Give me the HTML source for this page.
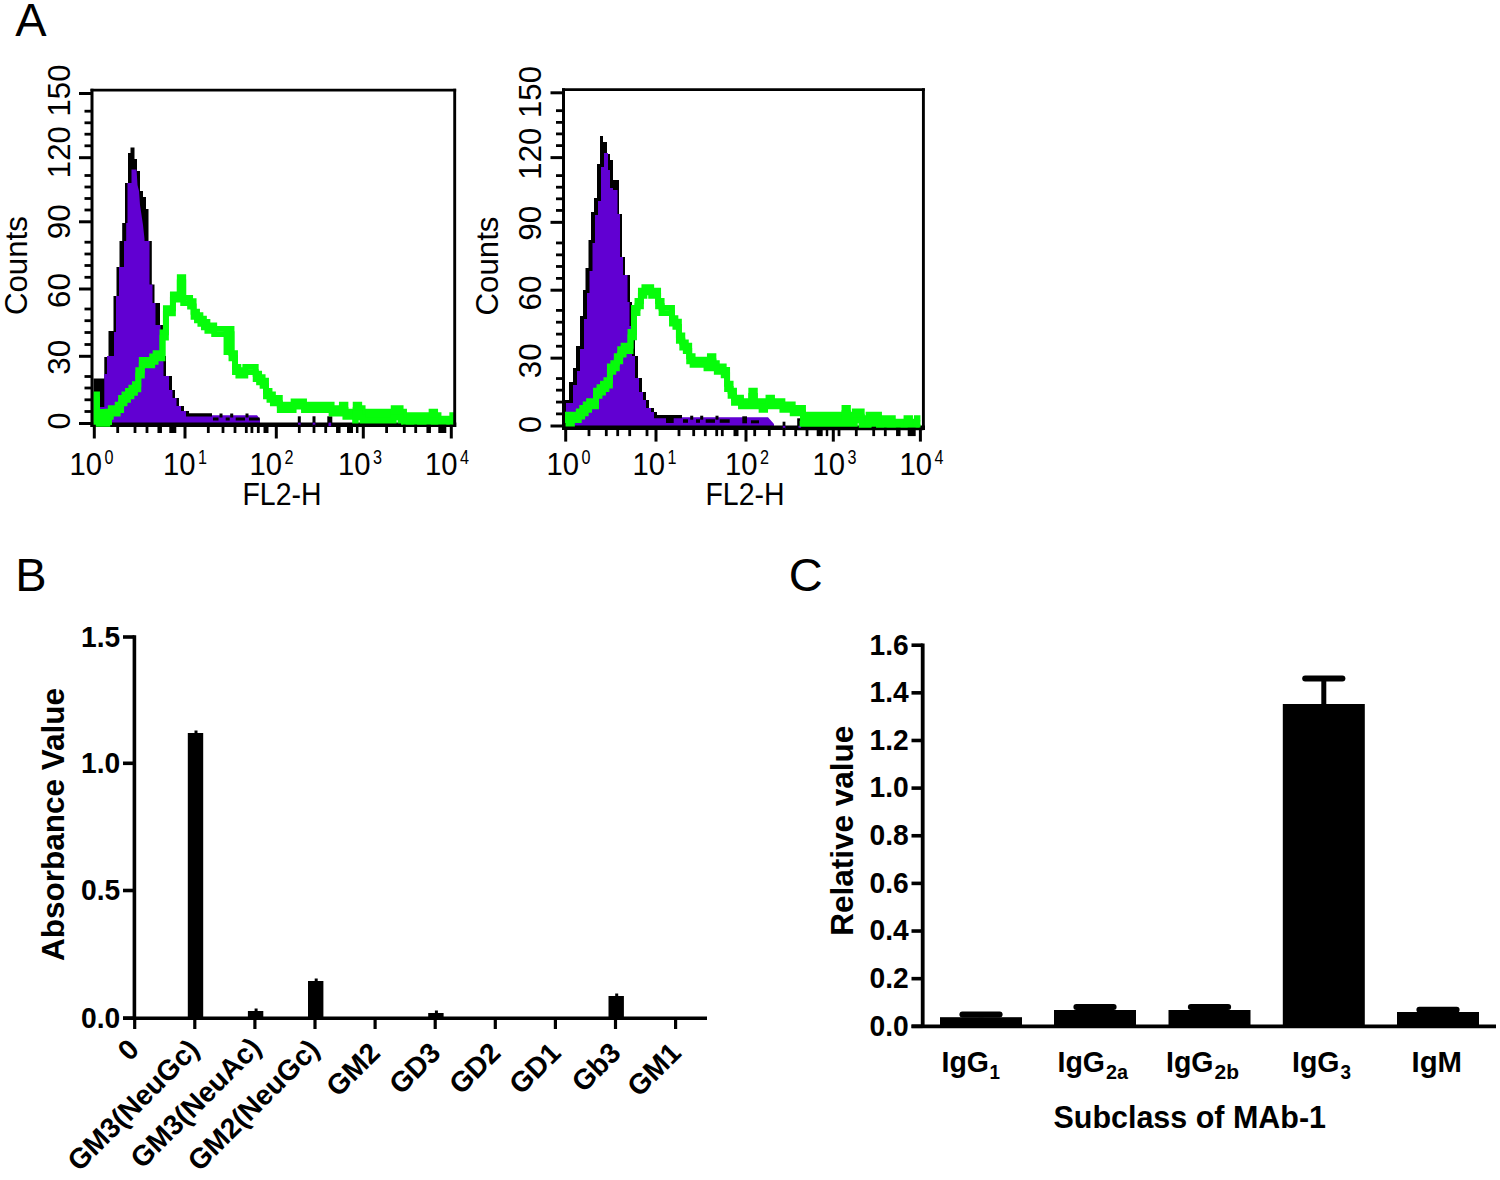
<!DOCTYPE html>
<html lang="en"><head><meta charset="utf-8"><title>Figure</title>
<style>html,body{margin:0;padding:0;background:#fff;}svg{display:block;}text{font-family:"Liberation Sans", sans-serif;fill:#000;}</style></head><body>
<svg width="1500" height="1180" viewBox="0 0 1500 1180">
<rect width="1500" height="1180" fill="#fff"/>
<text x="15.3" y="36.3" font-size="47" text-anchor="start" >A</text>
<text x="15.3" y="591.3" font-size="47" text-anchor="start" >B</text>
<text x="788.8" y="591.3" font-size="47" text-anchor="start" >C</text>
<g>
<polygon points="93.5,424 93.5,378.5 104.3,378.5 104.3,357 108.5,357 108.5,331 113.5,331 113.5,296 116.5,296 116.5,267 119.5,267 119.5,241 122.2,241 122.2,223 125,223 125,183 128,183 128,153 130.5,153 130.5,147.5 134.5,147.5 134.5,159 137,159 137,171 140,171 140,191 143,191 143,197 146,197 146,209 148.5,209 148.5,241 151.8,241 151.8,284.5 154.5,284.5 154.5,303 160,303 160,325 163,325 163,338 164.5,338 164.5,356 166,356 166,376 172,376 172,390 175,390 175,398 179,398 179,406 184,406 184,411 189,411 189,413.3 212,413.3 212,424" fill="#000"/>
<polygon points="98,424 98,407 104.3,407 104.3,374 107,374 107,356 114,356 114,332 116,332 116,296 119,296 119,267 124,267 124,241 126.2,241 126.2,223 127.5,223 127.5,183 131.5,183 131.5,169.5 136.5,169.5 137.5,185 139,191 140,205 141.5,215 143,225 144.5,239 144.5,241 149.5,241 149.5,284.5 152.5,284.5 152.5,303 155.5,303 155.5,325 160.5,325 160.5,338 162,338 162,356 163.5,356 163.5,376 169,376 169,390 172.5,390 172.5,398 176.5,398 176.5,406 181,406 181,411 186,411 186,416.5 212,416.5 212,415.3 257,415.3 260,419 260,424" fill="#6100d2"/>
<rect x="213" y="417.5" width="5.5" height="3" fill="#000"/>
<rect x="225.7" y="417.5" width="4" height="3" fill="#000"/>
<rect x="235.7" y="417.5" width="9.3" height="3" fill="#000"/>
<rect x="249" y="417.5" width="10.7" height="3" fill="#000"/>
<rect x="219.5" y="413.5" width="3" height="4" fill="#000"/>
<rect x="230.2" y="413.5" width="3" height="4" fill="#000"/>
<rect x="245.5" y="413.5" width="3" height="4" fill="#000"/>
<rect x="297.8" y="416.3" width="3" height="8" fill="#000"/>
<rect x="312.5" y="416.3" width="3" height="8" fill="#000"/>
<rect x="327.3" y="416.3" width="5" height="8" fill="#000"/>
<line x1="90.5" y1="424.7" x2="456.3" y2="424.7" stroke="#000" stroke-width="4.6" stroke-linecap="butt"/>
<rect x="298" y="422.6" width="2.6" height="3.6" fill="#6100d2"/>
<rect x="312.7" y="422.6" width="2.6" height="3.6" fill="#6100d2"/>
<rect x="328.5" y="422.6" width="2.6" height="3.6" fill="#6100d2"/>
<path d="M93.5,397.1H97.0V421.2H100.4V421.2H103.8V421.2H107.3V414.3H110.8V410.9H114.2V410.9H117.7V407.4H121.1V400.6H124.5V397.1H128.0V393.6H131.4V390.2H134.9V386.8H138.3V372.9H141.8V362.6H145.2V362.6H148.7V362.6H152.2V359.1H155.6V355.7H159.1V355.7H162.5V335.0H165.9V310.8H169.4V310.8H172.9V297.0H176.3V297.0H179.8V279.8H183.2V300.5H186.7V300.5H190.1V303.9H193.6V314.3H197.0V317.8H200.4V321.2H203.9V324.6H207.4V328.1H210.8V328.1H214.2V331.5H217.7V331.5H221.2V331.5H224.6V331.5H228.1V331.5H231.5V355.7H235.0V369.5H238.4V372.9H241.8V372.9H245.3V369.5H248.8V369.5H252.2V369.5H255.7V376.4H259.1V379.8H262.6V383.3H266.0V393.6H269.5V397.1H272.9V400.6H276.4V400.6H279.8V407.4H283.2V407.4H286.7V407.4H290.1V407.4H293.6V404.0H297.1V404.0H300.5V404.0H304.0V407.4H307.4V407.4H310.9V407.4H314.3V407.4H317.8V407.4H321.2V407.4H324.6V407.4H328.1V407.4H331.6V410.9H335.0V410.9H338.5V410.9H341.9V407.4H345.4V414.3H348.8V414.3H352.2V414.3H355.7V407.4H359.2V410.9H362.6V414.3H366.1V414.3H369.5V414.3H372.9V414.3H376.4V414.3H379.9V414.3H383.3V414.3H386.8V414.3H390.2V414.3H393.7V410.9H397.1V410.9H400.6V414.3H404.0V417.8H407.4V417.8H410.9V417.8H414.4V417.8H417.8V417.8H421.2V417.8H424.7V417.8H428.2V417.8H431.6V414.3H435.1V417.8H438.5V421.2H442.0V421.2H445.4V421.2H448.9V421.2H452.3V417.8H455.8" transform="translate(0 -2.6)" fill="none" stroke="#06fc0a" stroke-width="5.9" stroke-linejoin="miter" stroke-linecap="butt"/>
<path d="M93.5,397.1H97.0V421.2H100.4V421.2H103.8V421.2H107.3V414.3H110.8V410.9H114.2V410.9H117.7V407.4H121.1V400.6H124.5V397.1H128.0V393.6H131.4V390.2H134.9V386.8H138.3V372.9H141.8V362.6H145.2V362.6H148.7V362.6H152.2V359.1H155.6V355.7H159.1V355.7H162.5V335.0H165.9V310.8H169.4V310.8H172.9V297.0H176.3V297.0H179.8V279.8H183.2V300.5H186.7V300.5H190.1V303.9H193.6V314.3H197.0V317.8H200.4V321.2H203.9V324.6H207.4V328.1H210.8V328.1H214.2V331.5H217.7V331.5H221.2V331.5H224.6V331.5H228.1V331.5H231.5V355.7H235.0V369.5H238.4V372.9H241.8V372.9H245.3V369.5H248.8V369.5H252.2V369.5H255.7V376.4H259.1V379.8H262.6V383.3H266.0V393.6H269.5V397.1H272.9V400.6H276.4V400.6H279.8V407.4H283.2V407.4H286.7V407.4H290.1V407.4H293.6V404.0H297.1V404.0H300.5V404.0H304.0V407.4H307.4V407.4H310.9V407.4H314.3V407.4H317.8V407.4H321.2V407.4H324.6V407.4H328.1V407.4H331.6V410.9H335.0V410.9H338.5V410.9H341.9V407.4H345.4V414.3H348.8V414.3H352.2V414.3H355.7V407.4H359.2V410.9H362.6V414.3H366.1V414.3H369.5V414.3H372.9V414.3H376.4V414.3H379.9V414.3H383.3V414.3H386.8V414.3H390.2V414.3H393.7V410.9H397.1V410.9H400.6V414.3H404.0V417.8H407.4V417.8H410.9V417.8H414.4V417.8H417.8V417.8H421.2V417.8H424.7V417.8H428.2V417.8H431.6V414.3H435.1V417.8H438.5V421.2H442.0V421.2H445.4V421.2H448.9V421.2H452.3V417.8H455.8" transform="translate(0 2.6)" fill="none" stroke="#06fc0a" stroke-width="5.9" stroke-linejoin="miter" stroke-linecap="butt"/>
<clipPath id="clip92"><rect x="92" y="90.2" width="361.2" height="334.7"/></clipPath>
<g clip-path="url(#clip92)"><path d="M352.2,414.3H355.7V407.4H359.2V410.9H362.6V414.3H366.1V414.3H369.5V414.3H372.9V414.3H376.4V414.3H379.9V414.3H383.3V414.3H386.8V414.3H390.2V414.3H393.7V410.9H397.1V410.9H400.6V414.3H404.0V417.8H407.4V417.8H410.9V417.8H414.4V417.8H417.8V417.8H421.2V417.8H424.7V417.8H428.2V417.8H431.6V414.3H435.1V417.8H438.5V421.2H442.0V421.2H445.4V421.2H448.9V421.2H452.3V417.8H455.8" transform="translate(0 6.3)" fill="none" stroke="#06fc0a" stroke-width="5.9" stroke-linejoin="miter"/></g>
<line x1="346" y1="425.9" x2="454.7" y2="425.9" stroke="#000" stroke-width="2.3" stroke-linecap="butt"/>
<rect x="93.5" y="392" width="5.5" height="33" fill="#06fc0a"/>
<rect x="93.5" y="409" width="18.5" height="16" fill="#06fc0a"/>
<polyline points="226.5,331 226.5,355" fill="none" stroke="#06fc0a" stroke-width="5.9"/>
<line x1="92" y1="88.7" x2="92" y2="427.0" stroke="#000" stroke-width="3" stroke-linecap="butt"/>
<line x1="454.7" y1="88.7" x2="454.7" y2="427.0" stroke="#000" stroke-width="2.9" stroke-linecap="butt"/>
<line x1="90.5" y1="90.2" x2="456.15" y2="90.2" stroke="#000" stroke-width="2.8" stroke-linecap="butt"/>
<line x1="79" y1="93.5" x2="92" y2="93.5" stroke="#000" stroke-width="3" stroke-linecap="butt"/>
<line x1="79" y1="157.7" x2="92" y2="157.7" stroke="#000" stroke-width="3" stroke-linecap="butt"/>
<line x1="79" y1="221.8" x2="92" y2="221.8" stroke="#000" stroke-width="3" stroke-linecap="butt"/>
<line x1="79" y1="289" x2="92" y2="289" stroke="#000" stroke-width="3" stroke-linecap="butt"/>
<line x1="79" y1="356.3" x2="92" y2="356.3" stroke="#000" stroke-width="3" stroke-linecap="butt"/>
<line x1="79" y1="423.5" x2="92" y2="423.5" stroke="#000" stroke-width="3" stroke-linecap="butt"/>
<line x1="84.5" y1="111.2" x2="92" y2="111.2" stroke="#000" stroke-width="2.8" stroke-linecap="butt"/>
<line x1="84.5" y1="122.8" x2="92" y2="122.8" stroke="#000" stroke-width="2.8" stroke-linecap="butt"/>
<line x1="84.5" y1="134.2" x2="92" y2="134.2" stroke="#000" stroke-width="2.8" stroke-linecap="butt"/>
<line x1="84.5" y1="145.8" x2="92" y2="145.8" stroke="#000" stroke-width="2.8" stroke-linecap="butt"/>
<line x1="84.5" y1="175.5" x2="92" y2="175.5" stroke="#000" stroke-width="2.8" stroke-linecap="butt"/>
<line x1="84.5" y1="187" x2="92" y2="187" stroke="#000" stroke-width="2.8" stroke-linecap="butt"/>
<line x1="84.5" y1="198.5" x2="92" y2="198.5" stroke="#000" stroke-width="2.8" stroke-linecap="butt"/>
<line x1="84.5" y1="210" x2="92" y2="210" stroke="#000" stroke-width="2.8" stroke-linecap="butt"/>
<line x1="84.5" y1="242.2" x2="92" y2="242.2" stroke="#000" stroke-width="2.8" stroke-linecap="butt"/>
<line x1="84.5" y1="254" x2="92" y2="254" stroke="#000" stroke-width="2.8" stroke-linecap="butt"/>
<line x1="84.5" y1="265.5" x2="92" y2="265.5" stroke="#000" stroke-width="2.8" stroke-linecap="butt"/>
<line x1="84.5" y1="277.3" x2="92" y2="277.3" stroke="#000" stroke-width="2.8" stroke-linecap="butt"/>
<line x1="84.5" y1="309" x2="92" y2="309" stroke="#000" stroke-width="2.8" stroke-linecap="butt"/>
<line x1="84.5" y1="320.7" x2="92" y2="320.7" stroke="#000" stroke-width="2.8" stroke-linecap="butt"/>
<line x1="84.5" y1="332.5" x2="92" y2="332.5" stroke="#000" stroke-width="2.8" stroke-linecap="butt"/>
<line x1="84.5" y1="344.5" x2="92" y2="344.5" stroke="#000" stroke-width="2.8" stroke-linecap="butt"/>
<line x1="84.5" y1="376.5" x2="92" y2="376.5" stroke="#000" stroke-width="2.8" stroke-linecap="butt"/>
<line x1="84.5" y1="388" x2="92" y2="388" stroke="#000" stroke-width="2.8" stroke-linecap="butt"/>
<line x1="84.5" y1="399.8" x2="92" y2="399.8" stroke="#000" stroke-width="2.8" stroke-linecap="butt"/>
<line x1="84.5" y1="411.5" x2="92" y2="411.5" stroke="#000" stroke-width="2.8" stroke-linecap="butt"/>
<line x1="117.7" y1="424.7" x2="117.7" y2="433.0" stroke="#000" stroke-width="2.8" stroke-linecap="butt"/>
<line x1="135" y1="424.7" x2="135" y2="433.0" stroke="#000" stroke-width="2.8" stroke-linecap="butt"/>
<line x1="147" y1="424.7" x2="147" y2="433.0" stroke="#000" stroke-width="2.8" stroke-linecap="butt"/>
<line x1="159.7" y1="424.7" x2="159.7" y2="433.0" stroke="#000" stroke-width="4.5" stroke-linecap="butt"/>
<line x1="172.8" y1="424.7" x2="172.8" y2="433.0" stroke="#000" stroke-width="7" stroke-linecap="butt"/>
<line x1="208.3" y1="424.7" x2="208.3" y2="433.0" stroke="#000" stroke-width="2.8" stroke-linecap="butt"/>
<line x1="223" y1="424.7" x2="223" y2="433.0" stroke="#000" stroke-width="2.8" stroke-linecap="butt"/>
<line x1="235" y1="424.7" x2="235" y2="433.0" stroke="#000" stroke-width="2.8" stroke-linecap="butt"/>
<line x1="246.3" y1="424.7" x2="246.3" y2="433.0" stroke="#000" stroke-width="2.8" stroke-linecap="butt"/>
<line x1="251.9" y1="424.7" x2="251.9" y2="433.0" stroke="#000" stroke-width="2.8" stroke-linecap="butt"/>
<line x1="258.3" y1="424.7" x2="258.3" y2="433.0" stroke="#000" stroke-width="2.8" stroke-linecap="butt"/>
<line x1="266" y1="424.7" x2="266" y2="433.0" stroke="#000" stroke-width="5" stroke-linecap="butt"/>
<line x1="299.3" y1="424.7" x2="299.3" y2="433.0" stroke="#000" stroke-width="2.8" stroke-linecap="butt"/>
<line x1="314" y1="424.7" x2="314" y2="433.0" stroke="#000" stroke-width="2.8" stroke-linecap="butt"/>
<line x1="325.7" y1="424.7" x2="325.7" y2="433.0" stroke="#000" stroke-width="2.8" stroke-linecap="butt"/>
<line x1="338.3" y1="424.7" x2="338.3" y2="433.0" stroke="#000" stroke-width="4.5" stroke-linecap="butt"/>
<line x1="350" y1="424.7" x2="350" y2="433.0" stroke="#000" stroke-width="6" stroke-linecap="butt"/>
<line x1="357.2" y1="424.7" x2="357.2" y2="433.0" stroke="#000" stroke-width="2.5" stroke-linecap="butt"/>
<line x1="386.6" y1="424.7" x2="386.6" y2="433.0" stroke="#000" stroke-width="2.8" stroke-linecap="butt"/>
<line x1="404.3" y1="424.7" x2="404.3" y2="433.0" stroke="#000" stroke-width="2.8" stroke-linecap="butt"/>
<line x1="415.7" y1="424.7" x2="415.7" y2="433.0" stroke="#000" stroke-width="2.8" stroke-linecap="butt"/>
<line x1="428.7" y1="424.7" x2="428.7" y2="433.0" stroke="#000" stroke-width="4.5" stroke-linecap="butt"/>
<line x1="442.3" y1="424.7" x2="442.3" y2="433.0" stroke="#000" stroke-width="8" stroke-linecap="butt"/>
<line x1="94.3" y1="424.7" x2="94.3" y2="438.5" stroke="#000" stroke-width="3" stroke-linecap="butt"/>
<line x1="185" y1="424.7" x2="185" y2="438.5" stroke="#000" stroke-width="3" stroke-linecap="butt"/>
<line x1="276.3" y1="424.7" x2="276.3" y2="438.5" stroke="#000" stroke-width="3" stroke-linecap="butt"/>
<line x1="363.3" y1="424.7" x2="363.3" y2="438.5" stroke="#000" stroke-width="3" stroke-linecap="butt"/>
<line x1="451.3" y1="424.7" x2="451.3" y2="438.5" stroke="#000" stroke-width="3" stroke-linecap="butt"/>
<text x="70" y="64.5" font-size="31" text-anchor="end" textLength="52" lengthAdjust="spacingAndGlyphs" transform="rotate(-90 70 64.5)" >150</text>
<text x="70" y="152.2" font-size="31" text-anchor="middle" textLength="52" lengthAdjust="spacingAndGlyphs" transform="rotate(-90 70 152.2)" >120</text>
<text x="70" y="221.8" font-size="31" text-anchor="middle" textLength="35" lengthAdjust="spacingAndGlyphs" transform="rotate(-90 70 221.8)" >90</text>
<text x="70" y="290.5" font-size="31" text-anchor="middle" textLength="35" lengthAdjust="spacingAndGlyphs" transform="rotate(-90 70 290.5)" >60</text>
<text x="70" y="357.3" font-size="31" text-anchor="middle" textLength="35" lengthAdjust="spacingAndGlyphs" transform="rotate(-90 70 357.3)" >30</text>
<text x="70" y="421.0" font-size="31" text-anchor="middle" textLength="17" lengthAdjust="spacingAndGlyphs" transform="rotate(-90 70 421.0)" >0</text>
<text x="27" y="265.6" font-size="31" text-anchor="middle" textLength="99" lengthAdjust="spacingAndGlyphs" transform="rotate(-90 27 265.6)" >Counts</text>
<text x="69.4" y="475.4" font-size="31" textLength="32.5" lengthAdjust="spacingAndGlyphs">10</text>
<text x="104.4" y="464.4" font-size="20" textLength="9" lengthAdjust="spacingAndGlyphs">0</text>
<text x="162.9" y="475.4" font-size="31" textLength="32.5" lengthAdjust="spacingAndGlyphs">10</text>
<text x="197.9" y="464.4" font-size="20" textLength="9" lengthAdjust="spacingAndGlyphs">1</text>
<text x="249.4" y="475.4" font-size="31" textLength="32.5" lengthAdjust="spacingAndGlyphs">10</text>
<text x="284.4" y="464.4" font-size="20" textLength="9" lengthAdjust="spacingAndGlyphs">2</text>
<text x="337.9" y="475.4" font-size="31" textLength="32.5" lengthAdjust="spacingAndGlyphs">10</text>
<text x="372.9" y="464.4" font-size="20" textLength="9" lengthAdjust="spacingAndGlyphs">3</text>
<text x="424.9" y="475.4" font-size="31" textLength="32.5" lengthAdjust="spacingAndGlyphs">10</text>
<text x="459.9" y="464.4" font-size="20" textLength="9" lengthAdjust="spacingAndGlyphs">4</text>
<text x="282" y="505.4" font-size="31" text-anchor="middle" textLength="79" lengthAdjust="spacingAndGlyphs" >FL2-H</text>
</g>
<g>
<polygon points="564,427 564,400 569,400 569,382 573,382 573,368 576,368 576,346 580,346 580,316 583,316 583,290 585.5,290 585.5,268 588.5,268 588.5,240 591,240 591,212 594,212 594,198 597,198 597,164 600,164 600,136 603,136 603,142 607,142 607,154 610,154 610,160 613,160 613,180 619,180 619,214 622,214 622,257 625,257 625,275 630,275 630,302 632,302 632,326 635,326 635,356 638,356 638,378 642,378 642,392 646,392 646,400 649,400 649,408 654,408 654,412 657,412 657,415 682,415 682,427" fill="#000"/>
<polygon points="566,427 566,403 573,403 573,385 577,385 577,371 580,371 580,349 584,349 584,319 587,319 587,293 589.5,293 589.5,271 592.5,271 592.5,243 595,243 595,215 598,215 598,201 601,201 601,167 604,167 604,153 608,153 608,170 610,170 610,188 613,188 613,190 617.5,190 617.5,214 620,214 620,257 623,257 623,275 627.5,275 627.5,302 629.5,302 629.5,326 632,326 632,356 635,356 635,378 639,378 639,392 643,392 643,400 646,400 646,408 651,408 651,412 654,412 654,418.3 682,418.3 682,417.3 768,417.3 774,424 774,427" fill="#6100d2"/>
<rect x="666" y="417" width="7.7" height="6" fill="#000"/>
<rect x="683" y="419.3" width="5" height="3.5" fill="#000"/>
<rect x="696" y="419.3" width="4" height="3.5" fill="#000"/>
<rect x="705.7" y="419.3" width="9.3" height="3.5" fill="#000"/>
<rect x="719.7" y="419.3" width="10" height="3.5" fill="#000"/>
<rect x="690.2" y="415.7" width="3" height="4" fill="#000"/>
<rect x="700.2" y="415.7" width="3" height="4" fill="#000"/>
<rect x="715.5" y="415.7" width="3" height="4" fill="#000"/>
<rect x="742.3" y="416.3" width="4.7" height="7" fill="#000"/>
<rect x="751" y="420.3" width="8" height="3" fill="#000"/>
<rect x="782.6" y="421.7" width="2.8" height="5" fill="#000"/>
<rect x="797.2" y="418.3" width="5" height="8" fill="#000"/>
<line x1="562.0" y1="427.8" x2="925.0" y2="427.8" stroke="#000" stroke-width="4.6" stroke-linecap="butt"/>
<rect x="782.8" y="425.8" width="2.5" height="3.5" fill="#6100d2"/>
<rect x="798.5" y="425.8" width="2.6" height="3.5" fill="#6100d2"/>
<path d="M565.0,417.4H568.5V420.9H571.9V417.4H575.4V417.4H578.8V414.0H582.2V410.6H585.7V407.1H589.1V403.7H592.6V403.7H596.0V393.3H599.5V389.9H603.0V386.4H606.4V382.9H609.9V369.1H613.3V365.7H616.8V358.8H620.2V351.9H623.6V348.4H627.1V348.4H630.5V334.6H634.0V310.5H637.5V303.6H640.9V293.2H644.4V289.8H647.8V289.8H651.2V293.2H654.7V293.2H658.1V303.6H661.6V310.5H665.0V310.5H668.5V310.5H672.0V320.9H675.4V324.3H678.9V338.1H682.3V345.0H685.8V348.4H689.2V358.8H692.6V362.2H696.1V362.2H699.5V362.2H703.0V362.2H706.5V365.7H709.9V358.8H713.4V365.7H716.8V369.1H720.2V369.1H723.7V372.6H727.1V386.4H730.6V393.3H734.0V400.2H737.5V400.2H741.0V403.7H744.4V403.7H747.9V403.7H751.3V393.3H754.8V403.7H758.2V403.7H761.6V407.1H765.1V403.7H768.5V400.2H772.0V403.7H775.5V403.7H778.9V403.7H782.4V407.1H785.8V407.1H789.2V407.1H792.7V410.6H796.1V410.6H799.6V410.6H803.0V417.4H806.5V417.4H810.0V417.4H813.4V417.4H816.9V417.4H820.3V417.4H823.8V417.4H827.2V417.4H830.7V417.4H834.1V417.4H837.5V417.4H841.0V417.4H844.5V410.6H847.9V417.4H851.4V417.4H854.8V414.0H858.2V414.0H861.7V420.9H865.2V420.9H868.6V417.4H872.0V417.4H875.5V417.4H879.0V420.9H882.4V420.9H885.9V420.9H889.3V420.9H892.8V424.4H896.2V424.4H899.7V424.4H903.1V424.4H906.5V420.9H910.0V424.4H913.5V424.4H916.9V420.9H920.4" transform="translate(0 -2.6)" fill="none" stroke="#06fc0a" stroke-width="5.9" stroke-linejoin="miter" stroke-linecap="butt"/>
<path d="M565.0,417.4H568.5V420.9H571.9V417.4H575.4V417.4H578.8V414.0H582.2V410.6H585.7V407.1H589.1V403.7H592.6V403.7H596.0V393.3H599.5V389.9H603.0V386.4H606.4V382.9H609.9V369.1H613.3V365.7H616.8V358.8H620.2V351.9H623.6V348.4H627.1V348.4H630.5V334.6H634.0V310.5H637.5V303.6H640.9V293.2H644.4V289.8H647.8V289.8H651.2V293.2H654.7V293.2H658.1V303.6H661.6V310.5H665.0V310.5H668.5V310.5H672.0V320.9H675.4V324.3H678.9V338.1H682.3V345.0H685.8V348.4H689.2V358.8H692.6V362.2H696.1V362.2H699.5V362.2H703.0V362.2H706.5V365.7H709.9V358.8H713.4V365.7H716.8V369.1H720.2V369.1H723.7V372.6H727.1V386.4H730.6V393.3H734.0V400.2H737.5V400.2H741.0V403.7H744.4V403.7H747.9V403.7H751.3V393.3H754.8V403.7H758.2V403.7H761.6V407.1H765.1V403.7H768.5V400.2H772.0V403.7H775.5V403.7H778.9V403.7H782.4V407.1H785.8V407.1H789.2V407.1H792.7V410.6H796.1V410.6H799.6V410.6H803.0V417.4H806.5V417.4H810.0V417.4H813.4V417.4H816.9V417.4H820.3V417.4H823.8V417.4H827.2V417.4H830.7V417.4H834.1V417.4H837.5V417.4H841.0V417.4H844.5V410.6H847.9V417.4H851.4V417.4H854.8V414.0H858.2V414.0H861.7V420.9H865.2V420.9H868.6V417.4H872.0V417.4H875.5V417.4H879.0V420.9H882.4V420.9H885.9V420.9H889.3V420.9H892.8V424.4H896.2V424.4H899.7V424.4H903.1V424.4H906.5V420.9H910.0V424.4H913.5V424.4H916.9V420.9H920.4" transform="translate(0 2.6)" fill="none" stroke="#06fc0a" stroke-width="5.9" stroke-linejoin="miter" stroke-linecap="butt"/>
<clipPath id="clip563"><rect x="563.5" y="89.7" width="358.4" height="338.3"/></clipPath>
<g clip-path="url(#clip563)"><path d="M799.6,417.4H803.0V417.4H806.5V417.4H810.0V417.4H813.4V417.4H816.9V417.4H820.3V417.4H823.8V417.4H827.2V417.4H830.7V417.4H834.1V417.4H837.5V417.4H841.0V417.4H844.5V410.6H847.9V417.4H851.4V417.4H854.8V414.0H858.2V414.0H861.7V420.9H865.2V420.9H868.6V417.4H872.0V417.4H875.5V417.4H879.0V420.9H882.4V420.9H885.9V420.9H889.3V420.9H892.8V424.4H896.2V424.4H899.7V424.4H903.1V424.4H906.5V420.9H910.0V424.4H913.5V424.4H916.9V420.9H920.4" transform="translate(0 6.3)" fill="none" stroke="#06fc0a" stroke-width="5.9" stroke-linejoin="miter"/></g>
<line x1="797" y1="429.0" x2="923.4" y2="429.0" stroke="#000" stroke-width="2.3" stroke-linecap="butt"/>
<line x1="563.5" y1="88.2" x2="563.5" y2="430.1" stroke="#000" stroke-width="3" stroke-linecap="butt"/>
<line x1="923.4" y1="88.2" x2="923.4" y2="430.1" stroke="#000" stroke-width="2.9" stroke-linecap="butt"/>
<line x1="562.0" y1="89.7" x2="924.85" y2="89.7" stroke="#000" stroke-width="2.8" stroke-linecap="butt"/>
<line x1="550.5" y1="92.8" x2="563.5" y2="92.8" stroke="#000" stroke-width="3" stroke-linecap="butt"/>
<line x1="550.5" y1="157.62274" x2="563.5" y2="157.62274" stroke="#000" stroke-width="3" stroke-linecap="butt"/>
<line x1="550.5" y1="222.34451" x2="563.5" y2="222.34451" stroke="#000" stroke-width="3" stroke-linecap="butt"/>
<line x1="550.5" y1="290.19635" x2="563.5" y2="290.19635" stroke="#000" stroke-width="3" stroke-linecap="butt"/>
<line x1="550.5" y1="358.14916000000005" x2="563.5" y2="358.14916000000005" stroke="#000" stroke-width="3" stroke-linecap="butt"/>
<line x1="550.5" y1="426.00100000000003" x2="563.5" y2="426.00100000000003" stroke="#000" stroke-width="3" stroke-linecap="butt"/>
<line x1="556.0" y1="110.67169" x2="563.5" y2="110.67169" stroke="#000" stroke-width="2.8" stroke-linecap="butt"/>
<line x1="556.0" y1="122.38421" x2="563.5" y2="122.38421" stroke="#000" stroke-width="2.8" stroke-linecap="butt"/>
<line x1="556.0" y1="133.89479" x2="563.5" y2="133.89479" stroke="#000" stroke-width="2.8" stroke-linecap="butt"/>
<line x1="556.0" y1="145.60731" x2="563.5" y2="145.60731" stroke="#000" stroke-width="2.8" stroke-linecap="butt"/>
<line x1="556.0" y1="175.59539999999998" x2="563.5" y2="175.59539999999998" stroke="#000" stroke-width="2.8" stroke-linecap="butt"/>
<line x1="556.0" y1="187.20695" x2="563.5" y2="187.20695" stroke="#000" stroke-width="2.8" stroke-linecap="butt"/>
<line x1="556.0" y1="198.8185" x2="563.5" y2="198.8185" stroke="#000" stroke-width="2.8" stroke-linecap="butt"/>
<line x1="556.0" y1="210.43005" x2="563.5" y2="210.43005" stroke="#000" stroke-width="2.8" stroke-linecap="butt"/>
<line x1="556.0" y1="242.94239" x2="563.5" y2="242.94239" stroke="#000" stroke-width="2.8" stroke-linecap="butt"/>
<line x1="556.0" y1="254.85685" x2="563.5" y2="254.85685" stroke="#000" stroke-width="2.8" stroke-linecap="butt"/>
<line x1="556.0" y1="266.46840000000003" x2="563.5" y2="266.46840000000003" stroke="#000" stroke-width="2.8" stroke-linecap="butt"/>
<line x1="556.0" y1="278.38286" x2="563.5" y2="278.38286" stroke="#000" stroke-width="2.8" stroke-linecap="butt"/>
<line x1="556.0" y1="310.39035" x2="563.5" y2="310.39035" stroke="#000" stroke-width="2.8" stroke-linecap="butt"/>
<line x1="556.0" y1="322.20384" x2="563.5" y2="322.20384" stroke="#000" stroke-width="2.8" stroke-linecap="butt"/>
<line x1="556.0" y1="334.11830000000003" x2="563.5" y2="334.11830000000003" stroke="#000" stroke-width="2.8" stroke-linecap="butt"/>
<line x1="556.0" y1="346.23470000000003" x2="563.5" y2="346.23470000000003" stroke="#000" stroke-width="2.8" stroke-linecap="butt"/>
<line x1="556.0" y1="378.54510000000005" x2="563.5" y2="378.54510000000005" stroke="#000" stroke-width="2.8" stroke-linecap="butt"/>
<line x1="556.0" y1="390.15665" x2="563.5" y2="390.15665" stroke="#000" stroke-width="2.8" stroke-linecap="butt"/>
<line x1="556.0" y1="402.07111000000003" x2="563.5" y2="402.07111000000003" stroke="#000" stroke-width="2.8" stroke-linecap="butt"/>
<line x1="556.0" y1="413.88460000000003" x2="563.5" y2="413.88460000000003" stroke="#000" stroke-width="2.8" stroke-linecap="butt"/>
<line x1="589" y1="427.8" x2="589" y2="436.1" stroke="#000" stroke-width="2.8" stroke-linecap="butt"/>
<line x1="606.3" y1="427.8" x2="606.3" y2="436.1" stroke="#000" stroke-width="2.8" stroke-linecap="butt"/>
<line x1="617.7" y1="427.8" x2="617.7" y2="436.1" stroke="#000" stroke-width="2.8" stroke-linecap="butt"/>
<line x1="629.7" y1="427.8" x2="629.7" y2="436.1" stroke="#000" stroke-width="2.8" stroke-linecap="butt"/>
<line x1="647" y1="427.8" x2="647" y2="436.1" stroke="#000" stroke-width="2.8" stroke-linecap="butt"/>
<line x1="679" y1="427.8" x2="679" y2="436.1" stroke="#000" stroke-width="2.8" stroke-linecap="butt"/>
<line x1="693.7" y1="427.8" x2="693.7" y2="436.1" stroke="#000" stroke-width="2.8" stroke-linecap="butt"/>
<line x1="705.3" y1="427.8" x2="705.3" y2="436.1" stroke="#000" stroke-width="2.8" stroke-linecap="butt"/>
<line x1="716.7" y1="427.8" x2="716.7" y2="436.1" stroke="#000" stroke-width="2.8" stroke-linecap="butt"/>
<line x1="722.3" y1="427.8" x2="722.3" y2="436.1" stroke="#000" stroke-width="2.8" stroke-linecap="butt"/>
<line x1="736" y1="427.8" x2="736" y2="436.1" stroke="#000" stroke-width="5" stroke-linecap="butt"/>
<line x1="754.7" y1="427.8" x2="754.7" y2="436.1" stroke="#000" stroke-width="2.8" stroke-linecap="butt"/>
<line x1="769.3" y1="427.8" x2="769.3" y2="436.1" stroke="#000" stroke-width="2.8" stroke-linecap="butt"/>
<line x1="784" y1="427.8" x2="784" y2="436.1" stroke="#000" stroke-width="2.8" stroke-linecap="butt"/>
<line x1="795.7" y1="427.8" x2="795.7" y2="436.1" stroke="#000" stroke-width="2.8" stroke-linecap="butt"/>
<line x1="807" y1="427.8" x2="807" y2="436.1" stroke="#000" stroke-width="2.8" stroke-linecap="butt"/>
<line x1="819.7" y1="427.8" x2="819.7" y2="436.1" stroke="#000" stroke-width="6" stroke-linecap="butt"/>
<line x1="827" y1="427.8" x2="827" y2="436.1" stroke="#000" stroke-width="2.5" stroke-linecap="butt"/>
<line x1="839" y1="427.8" x2="839" y2="436.1" stroke="#000" stroke-width="2.8" stroke-linecap="butt"/>
<line x1="856.3" y1="427.8" x2="856.3" y2="436.1" stroke="#000" stroke-width="2.8" stroke-linecap="butt"/>
<line x1="873.7" y1="427.8" x2="873.7" y2="436.1" stroke="#000" stroke-width="2.8" stroke-linecap="butt"/>
<line x1="885.3" y1="427.8" x2="885.3" y2="436.1" stroke="#000" stroke-width="2.8" stroke-linecap="butt"/>
<line x1="898.3" y1="427.8" x2="898.3" y2="436.1" stroke="#000" stroke-width="4.5" stroke-linecap="butt"/>
<line x1="911.7" y1="427.8" x2="911.7" y2="436.1" stroke="#000" stroke-width="8" stroke-linecap="butt"/>
<line x1="565.7" y1="427.8" x2="565.7" y2="441.6" stroke="#000" stroke-width="3" stroke-linecap="butt"/>
<line x1="656" y1="427.8" x2="656" y2="441.6" stroke="#000" stroke-width="3" stroke-linecap="butt"/>
<line x1="746" y1="427.8" x2="746" y2="441.6" stroke="#000" stroke-width="3" stroke-linecap="butt"/>
<line x1="833.3" y1="427.8" x2="833.3" y2="441.6" stroke="#000" stroke-width="3" stroke-linecap="butt"/>
<line x1="920.4" y1="427.8" x2="920.4" y2="441.6" stroke="#000" stroke-width="3" stroke-linecap="butt"/>
<text x="541" y="66.0" font-size="31" text-anchor="end" textLength="52" lengthAdjust="spacingAndGlyphs" transform="rotate(-90 541 66.0)" >150</text>
<text x="541" y="153.7" font-size="31" text-anchor="middle" textLength="52" lengthAdjust="spacingAndGlyphs" transform="rotate(-90 541 153.7)" >120</text>
<text x="541" y="223.3" font-size="31" text-anchor="middle" textLength="35" lengthAdjust="spacingAndGlyphs" transform="rotate(-90 541 223.3)" >90</text>
<text x="541" y="293.0" font-size="31" text-anchor="middle" textLength="35" lengthAdjust="spacingAndGlyphs" transform="rotate(-90 541 293.0)" >60</text>
<text x="541" y="360.8" font-size="31" text-anchor="middle" textLength="35" lengthAdjust="spacingAndGlyphs" transform="rotate(-90 541 360.8)" >30</text>
<text x="541" y="424.5" font-size="31" text-anchor="middle" textLength="17" lengthAdjust="spacingAndGlyphs" transform="rotate(-90 541 424.5)" >0</text>
<text x="498" y="266" font-size="31" text-anchor="middle" textLength="99" lengthAdjust="spacingAndGlyphs" transform="rotate(-90 498 266)" >Counts</text>
<text x="546.4" y="475.4" font-size="31" textLength="32.5" lengthAdjust="spacingAndGlyphs">10</text>
<text x="581.4" y="464.4" font-size="20" textLength="9" lengthAdjust="spacingAndGlyphs">0</text>
<text x="632.4" y="475.4" font-size="31" textLength="32.5" lengthAdjust="spacingAndGlyphs">10</text>
<text x="667.4" y="464.4" font-size="20" textLength="9" lengthAdjust="spacingAndGlyphs">1</text>
<text x="724.9" y="475.4" font-size="31" textLength="32.5" lengthAdjust="spacingAndGlyphs">10</text>
<text x="759.9" y="464.4" font-size="20" textLength="9" lengthAdjust="spacingAndGlyphs">2</text>
<text x="812.4" y="475.4" font-size="31" textLength="32.5" lengthAdjust="spacingAndGlyphs">10</text>
<text x="847.4" y="464.4" font-size="20" textLength="9" lengthAdjust="spacingAndGlyphs">3</text>
<text x="899.4" y="475.4" font-size="31" textLength="32.5" lengthAdjust="spacingAndGlyphs">10</text>
<text x="934.4" y="464.4" font-size="20" textLength="9" lengthAdjust="spacingAndGlyphs">4</text>
<text x="745" y="505.4" font-size="31" text-anchor="middle" textLength="79" lengthAdjust="spacingAndGlyphs" >FL2-H</text>
</g>
<line x1="134.4" y1="635.2" x2="134.4" y2="1019.95" stroke="#000" stroke-width="3.6" stroke-linecap="butt"/>
<line x1="123" y1="1018.2" x2="707" y2="1018.2" stroke="#000" stroke-width="3.6" stroke-linecap="butt"/>
<line x1="123" y1="637" x2="134.4" y2="637" stroke="#000" stroke-width="3.6" stroke-linecap="butt"/>
<text x="120.3" y="646.8" font-size="29.5" text-anchor="end" font-weight="700" textLength="39.2" lengthAdjust="spacingAndGlyphs" >1.5</text>
<line x1="123" y1="763.3" x2="134.4" y2="763.3" stroke="#000" stroke-width="3.6" stroke-linecap="butt"/>
<text x="120.3" y="773.1" font-size="29.5" text-anchor="end" font-weight="700" textLength="39.2" lengthAdjust="spacingAndGlyphs" >1.0</text>
<line x1="123" y1="890.5" x2="134.4" y2="890.5" stroke="#000" stroke-width="3.6" stroke-linecap="butt"/>
<text x="120.3" y="900.3" font-size="29.5" text-anchor="end" font-weight="700" textLength="39.2" lengthAdjust="spacingAndGlyphs" >0.5</text>
<line x1="123" y1="1018.2" x2="134.4" y2="1018.2" stroke="#000" stroke-width="3.6" stroke-linecap="butt"/>
<text x="120.3" y="1028.0" font-size="29.5" text-anchor="end" font-weight="700" textLength="39.2" lengthAdjust="spacingAndGlyphs" >0.0</text>
<text x="64" y="824.5" font-size="31" text-anchor="middle" font-weight="700" textLength="273" lengthAdjust="spacingAndGlyphs" transform="rotate(-90 64 824.5)" >Absorbance Value</text>
<line x1="134.7" y1="1018.2" x2="134.7" y2="1029" stroke="#000" stroke-width="3.2" stroke-linecap="butt"/>
<text x="140.7" y="1051" font-size="28.4" font-weight="700" text-anchor="end" transform="rotate(-45 140.7 1051)">0</text>
<line x1="194.79999999999998" y1="1018.2" x2="194.79999999999998" y2="1029" stroke="#000" stroke-width="3.2" stroke-linecap="butt"/>
<rect x="187.79999999999998" y="733" width="15.4" height="285.20000000000005" fill="#000"/>
<line x1="195.99999999999997" y1="730.5" x2="195.99999999999997" y2="733" stroke="#000" stroke-width="3" stroke-linecap="butt"/>
<text x="200.8" y="1051" font-size="28.4" font-weight="700" text-anchor="end" transform="rotate(-45 200.8 1051)">GM3(NeuGc)</text>
<line x1="254.89999999999998" y1="1018.2" x2="254.89999999999998" y2="1029" stroke="#000" stroke-width="3.2" stroke-linecap="butt"/>
<rect x="247.89999999999998" y="1011" width="15.4" height="7.2000000000000455" fill="#000"/>
<line x1="256.09999999999997" y1="1008.5" x2="256.09999999999997" y2="1011" stroke="#000" stroke-width="3" stroke-linecap="butt"/>
<text x="262.7" y="1049.2" font-size="28.4" font-weight="700" text-anchor="end" transform="rotate(-45 262.7 1049.2)">GM3(NeuAc)</text>
<line x1="315.0" y1="1018.2" x2="315.0" y2="1029" stroke="#000" stroke-width="3.2" stroke-linecap="butt"/>
<rect x="308.0" y="981" width="15.4" height="37.200000000000045" fill="#000"/>
<line x1="316.2" y1="978.5" x2="316.2" y2="981" stroke="#000" stroke-width="3" stroke-linecap="butt"/>
<text x="321.0" y="1051" font-size="28.4" font-weight="700" text-anchor="end" transform="rotate(-45 321.0 1051)">GM2(NeuGc)</text>
<line x1="375.1" y1="1018.2" x2="375.1" y2="1029" stroke="#000" stroke-width="3.2" stroke-linecap="butt"/>
<text x="381.6" y="1054.5" font-size="28.4" font-weight="700" text-anchor="end" transform="rotate(-45 381.6 1054.5)">GM2</text>
<line x1="435.2" y1="1018.2" x2="435.2" y2="1029" stroke="#000" stroke-width="3.2" stroke-linecap="butt"/>
<rect x="428.2" y="1013" width="15.4" height="5.2000000000000455" fill="#000"/>
<line x1="436.4" y1="1010.5" x2="436.4" y2="1013" stroke="#000" stroke-width="3" stroke-linecap="butt"/>
<text x="442.2" y="1054.5" font-size="28.4" font-weight="700" text-anchor="end" transform="rotate(-45 442.2 1054.5)">GD3</text>
<line x1="495.3" y1="1018.2" x2="495.3" y2="1029" stroke="#000" stroke-width="3.2" stroke-linecap="butt"/>
<text x="502.3" y="1054.5" font-size="28.4" font-weight="700" text-anchor="end" transform="rotate(-45 502.3 1054.5)">GD2</text>
<line x1="555.4" y1="1018.2" x2="555.4" y2="1029" stroke="#000" stroke-width="3.2" stroke-linecap="butt"/>
<text x="562.4" y="1054.5" font-size="28.4" font-weight="700" text-anchor="end" transform="rotate(-45 562.4 1054.5)">GD1</text>
<line x1="615.5" y1="1018.2" x2="615.5" y2="1029" stroke="#000" stroke-width="3.2" stroke-linecap="butt"/>
<rect x="608.5" y="996" width="15.4" height="22.200000000000045" fill="#000"/>
<line x1="616.7" y1="993.5" x2="616.7" y2="996" stroke="#000" stroke-width="3" stroke-linecap="butt"/>
<text x="622.5" y="1054.5" font-size="28.4" font-weight="700" text-anchor="end" transform="rotate(-45 622.5 1054.5)">Gb3</text>
<line x1="675.5999999999999" y1="1018.2" x2="675.5999999999999" y2="1029" stroke="#000" stroke-width="3.2" stroke-linecap="butt"/>
<text x="682.6" y="1054.5" font-size="28.4" font-weight="700" text-anchor="end" transform="rotate(-45 682.6 1054.5)">GM1</text>
<line x1="922.7" y1="643.4000000000001" x2="922.7" y2="1028.1" stroke="#000" stroke-width="3.8" stroke-linecap="butt"/>
<line x1="911.5" y1="1026.3" x2="1496" y2="1026.3" stroke="#000" stroke-width="3.8" stroke-linecap="butt"/>
<line x1="911.5" y1="645.2" x2="922.7" y2="645.2" stroke="#000" stroke-width="3.6" stroke-linecap="butt"/>
<text x="908.7" y="654.5" font-size="29.5" text-anchor="end" font-weight="700" textLength="39.2" lengthAdjust="spacingAndGlyphs" >1.6</text>
<line x1="911.5" y1="692.8375000000001" x2="922.7" y2="692.8375000000001" stroke="#000" stroke-width="3.6" stroke-linecap="butt"/>
<text x="908.7" y="702.1" font-size="29.5" text-anchor="end" font-weight="700" textLength="39.2" lengthAdjust="spacingAndGlyphs" >1.4</text>
<line x1="911.5" y1="740.475" x2="922.7" y2="740.475" stroke="#000" stroke-width="3.6" stroke-linecap="butt"/>
<text x="908.7" y="749.8" font-size="29.5" text-anchor="end" font-weight="700" textLength="39.2" lengthAdjust="spacingAndGlyphs" >1.2</text>
<line x1="911.5" y1="788.1125" x2="922.7" y2="788.1125" stroke="#000" stroke-width="3.6" stroke-linecap="butt"/>
<text x="908.7" y="797.4" font-size="29.5" text-anchor="end" font-weight="700" textLength="39.2" lengthAdjust="spacingAndGlyphs" >1.0</text>
<line x1="911.5" y1="835.75" x2="922.7" y2="835.75" stroke="#000" stroke-width="3.6" stroke-linecap="butt"/>
<text x="908.7" y="845.0" font-size="29.5" text-anchor="end" font-weight="700" textLength="39.2" lengthAdjust="spacingAndGlyphs" >0.8</text>
<line x1="911.5" y1="883.3875" x2="922.7" y2="883.3875" stroke="#000" stroke-width="3.6" stroke-linecap="butt"/>
<text x="908.7" y="892.7" font-size="29.5" text-anchor="end" font-weight="700" textLength="39.2" lengthAdjust="spacingAndGlyphs" >0.6</text>
<line x1="911.5" y1="931.025" x2="922.7" y2="931.025" stroke="#000" stroke-width="3.6" stroke-linecap="butt"/>
<text x="908.7" y="940.3" font-size="29.5" text-anchor="end" font-weight="700" textLength="39.2" lengthAdjust="spacingAndGlyphs" >0.4</text>
<line x1="911.5" y1="978.6624999999999" x2="922.7" y2="978.6624999999999" stroke="#000" stroke-width="3.6" stroke-linecap="butt"/>
<text x="908.7" y="988.0" font-size="29.5" text-anchor="end" font-weight="700" textLength="39.2" lengthAdjust="spacingAndGlyphs" >0.2</text>
<line x1="911.5" y1="1026.3" x2="922.7" y2="1026.3" stroke="#000" stroke-width="3.6" stroke-linecap="butt"/>
<text x="908.7" y="1035.6" font-size="29.5" text-anchor="end" font-weight="700" textLength="39.2" lengthAdjust="spacingAndGlyphs" >0.0</text>
<text x="852.7" y="830.8" font-size="31" text-anchor="middle" font-weight="700" textLength="210" lengthAdjust="spacingAndGlyphs" transform="rotate(-90 852.7 830.8)" >Relative value</text>
<rect x="940" y="1017.2" width="82" height="9.099999999999909" fill="#000"/>
<line x1="981" y1="1014.4" x2="981" y2="1017.2" stroke="#000" stroke-width="5" stroke-linecap="butt"/>
<line x1="962.4" y1="1014.4" x2="999.6" y2="1014.4" stroke="#000" stroke-width="6" stroke-linecap="round"/>
<rect x="1054" y="1010" width="82" height="16.299999999999955" fill="#000"/>
<line x1="1095" y1="1007" x2="1095" y2="1010" stroke="#000" stroke-width="5" stroke-linecap="butt"/>
<line x1="1076.4" y1="1007" x2="1113.6" y2="1007" stroke="#000" stroke-width="6" stroke-linecap="round"/>
<rect x="1168.5" y="1010" width="82" height="16.299999999999955" fill="#000"/>
<line x1="1209.5" y1="1007" x2="1209.5" y2="1010" stroke="#000" stroke-width="5" stroke-linecap="butt"/>
<line x1="1190.9" y1="1007" x2="1228.1" y2="1007" stroke="#000" stroke-width="6" stroke-linecap="round"/>
<rect x="1282.8" y="704" width="82" height="322.29999999999995" fill="#000"/>
<line x1="1323.8" y1="678.6" x2="1323.8" y2="704" stroke="#000" stroke-width="5" stroke-linecap="butt"/>
<line x1="1305.2" y1="678.6" x2="1342.3999999999999" y2="678.6" stroke="#000" stroke-width="6" stroke-linecap="round"/>
<rect x="1397" y="1012" width="82" height="14.299999999999955" fill="#000"/>
<line x1="1438" y1="1009.8" x2="1438" y2="1012" stroke="#000" stroke-width="5" stroke-linecap="butt"/>
<line x1="1419.4" y1="1009.8" x2="1456.6" y2="1009.8" stroke="#000" stroke-width="6" stroke-linecap="round"/>
<text x="941.5" y="1072" font-size="29.5" font-weight="700" textLength="47.5" lengthAdjust="spacingAndGlyphs">IgG</text>
<text x="989.4" y="1079.3" font-size="20" font-weight="700" textLength="10.5" lengthAdjust="spacingAndGlyphs">1</text>
<text x="1057.5" y="1072" font-size="29.5" font-weight="700" textLength="47.5" lengthAdjust="spacingAndGlyphs">IgG</text>
<text x="1106" y="1079.3" font-size="20" font-weight="700" textLength="22" lengthAdjust="spacingAndGlyphs">2a</text>
<text x="1166" y="1072" font-size="29.5" font-weight="700" textLength="47.5" lengthAdjust="spacingAndGlyphs">IgG</text>
<text x="1214.5" y="1079.3" font-size="20" font-weight="700" textLength="24.5" lengthAdjust="spacingAndGlyphs">2b</text>
<text x="1292" y="1072" font-size="29.5" font-weight="700" textLength="47.5" lengthAdjust="spacingAndGlyphs">IgG</text>
<text x="1340.5" y="1079.3" font-size="20" font-weight="700" textLength="10.5" lengthAdjust="spacingAndGlyphs">3</text>
<text x="1411.5" y="1072" font-size="29.5" font-weight="700" textLength="50.5" lengthAdjust="spacingAndGlyphs">IgM</text>
<text x="1053.5" y="1127.5" font-size="31" text-anchor="start" font-weight="700" textLength="272.5" lengthAdjust="spacingAndGlyphs" >Subclass of MAb-1</text>
</svg></body></html>
